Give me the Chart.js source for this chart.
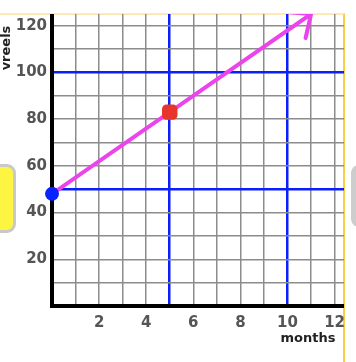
<!DOCTYPE html>
<html>
<head>
<meta charset="utf-8">
<script src="https://cdn.jsdelivr.net/npm/chart.js@4.4.0/dist/chart.umd.min.js"></script>
<style>
  body { margin: 0; background: #fff; overflow: hidden; }
  #wrap { position: relative; width: 356px; height: 362px; }
  #frame { position: absolute; left: 0; top: 13px; width: 343px; height: 349px;
           border-top: 2px solid #fde9b8; border-right: 2px solid #f9cf45; }
  #yellowBtn { position: absolute; left: -20px; top: 164px; width: 30px; height: 63px;
               background: #fdf542; border: 3px solid #c9c9c9; border-radius: 9px; }
  #grayBtn { position: absolute; left: 351px; top: 165px; width: 20px; height: 62px;
             background: #cdcdcd; border-radius: 8px; }
  canvas { position: absolute; left: 0; top: 0; }
</style>
</head>
<body>
<div id="wrap">
  <div id="frame"></div>
  <div id="yellowBtn"></div>
  <div id="grayBtn"></div>
  <canvas id="myChart" width="356" height="362"></canvas>
</div>
<script>
// line: start point, marked point, arrow tip
var months = [0, 5, 11];
var vreels = [48, 83, 125];
// the two dots
var dotMonths = [0, 5];
var dotVreels = [48, 83];
// arrow head barbs (second barb runs off the top)
var barbMonths = [10.77, 11, 9.94];
var barbVreels = [114.7, 125, 125.85];
// axis labels and the heavy blue lines
var xTickLabels = [2, 4, 6, 8, 10, 12];
var yTickLabels = [20, 40, 60, 80, 100, 120];
var xBlueLines = [5, 10];
var yBlueLines = [50, 100];

function toPoints(xs, ys) {
    return xs.map(function (x, i) { return { x: x, y: ys[i] }; });
}

function gridColor(blue) {
    return function (c) {
        var v = c.tick.value;
        if (!Number.isInteger(v)) return 'rgba(0,0,0,0)';
        return blue.indexOf(v) >= 0 ? '#0a1eff' : '#8c8c8c';
    };
}
function gridWidth(blue) {
    return function (c) {
        return blue.indexOf(c.tick.value) >= 0 ? 2.5 : 1.5;
    };
}

// black axes + axis titles
var axesPlugin = {
    id: 'axes',
    beforeDatasetsDraw: function (chart) {
        var a = chart.chartArea, ctx = chart.ctx;
        ctx.save();
        ctx.fillStyle = '#000';
        ctx.fillRect(a.left - 2, a.top, 4, a.bottom - a.top + 2);
        ctx.fillRect(a.left - 2, a.bottom - 2, a.right - a.left + 2, 4);
        ctx.restore();
    },
    afterDraw: function (chart) {
        var ctx = chart.ctx;
        ctx.save();
        ctx.fillStyle = '#222';
        ctx.font = 'bold 13px "DejaVu Sans"';
        ctx.textAlign = 'center';
        ctx.textBaseline = 'middle';
        ctx.fillText('months', 308, 339);
        ctx.translate(7, 48);
        ctx.rotate(-Math.PI / 2);
        ctx.fillText('vreels', 0, 0);
        ctx.restore();
    }
};

var ctx = document.getElementById('myChart').getContext('2d');
var chart = new Chart(ctx, {
    type: 'scatter',
    data: {
        datasets: [{
            // dots
            data: toPoints(dotMonths, dotVreels),
            pointStyle: ['circle', 'rectRounded'],
            pointRadius: [7, 9],
            backgroundColor: ['#0a22ff', '#e8352b'],
            borderWidth: 0,
            clip: false,
            order: 0
        }, {
            data: toPoints(months, vreels),
            showLine: true,
            borderColor: '#ec44ec',
            borderWidth: 4,
            pointRadius: 0,
            order: 1
        }, {
            data: toPoints(barbMonths, barbVreels),
            showLine: true,
            borderColor: '#ec44ec',
            borderWidth: 4,
            borderCapStyle: 'round',
            pointRadius: 0,
            order: 2
        }]
    },
    options: {
        responsive: false,
        animation: false,
        layout: { padding: { top: 14, right: 12, left: 0, bottom: 0 } },
        plugins: { legend: { display: false }, tooltip: { enabled: false } },
        scales: {
            x: {
                type: 'linear',
                min: 0,
                max: 12.4,
                afterFit: function (s) { s.height = 56; },
                border: { display: false },
                grid: { color: gridColor(xBlueLines), lineWidth: gridWidth(xBlueLines), drawTicks: false },
                ticks: {
                    stepSize: 1,
                    includeBounds: false,
                    autoSkip: false,
                    maxRotation: 0,
                    padding: 8,
                    color: '#555',
                    font: { family: 'DejaVu Sans', size: 15, weight: 'bold' },
                    callback: function (v) { return xTickLabels.indexOf(v) >= 0 ? v : ''; }
                }
            },
            y: {
                min: 0,
                max: 125,
                afterFit: function (s) { s.width = 52; },
                border: { display: false },
                grid: { color: gridColor(yBlueLines), lineWidth: gridWidth(yBlueLines), drawTicks: false },
                ticks: {
                    stepSize: 10,
                    includeBounds: false,
                    autoSkip: false,
                    padding: 5,
                    color: '#555',
                    font: { family: 'DejaVu Sans', size: 15, weight: 'bold' },
                    callback: function (v) { return yTickLabels.indexOf(v) >= 0 ? v : ''; }
                }
            }
        }
    },
    plugins: [axesPlugin]
});
</script>
</body>
</html>
